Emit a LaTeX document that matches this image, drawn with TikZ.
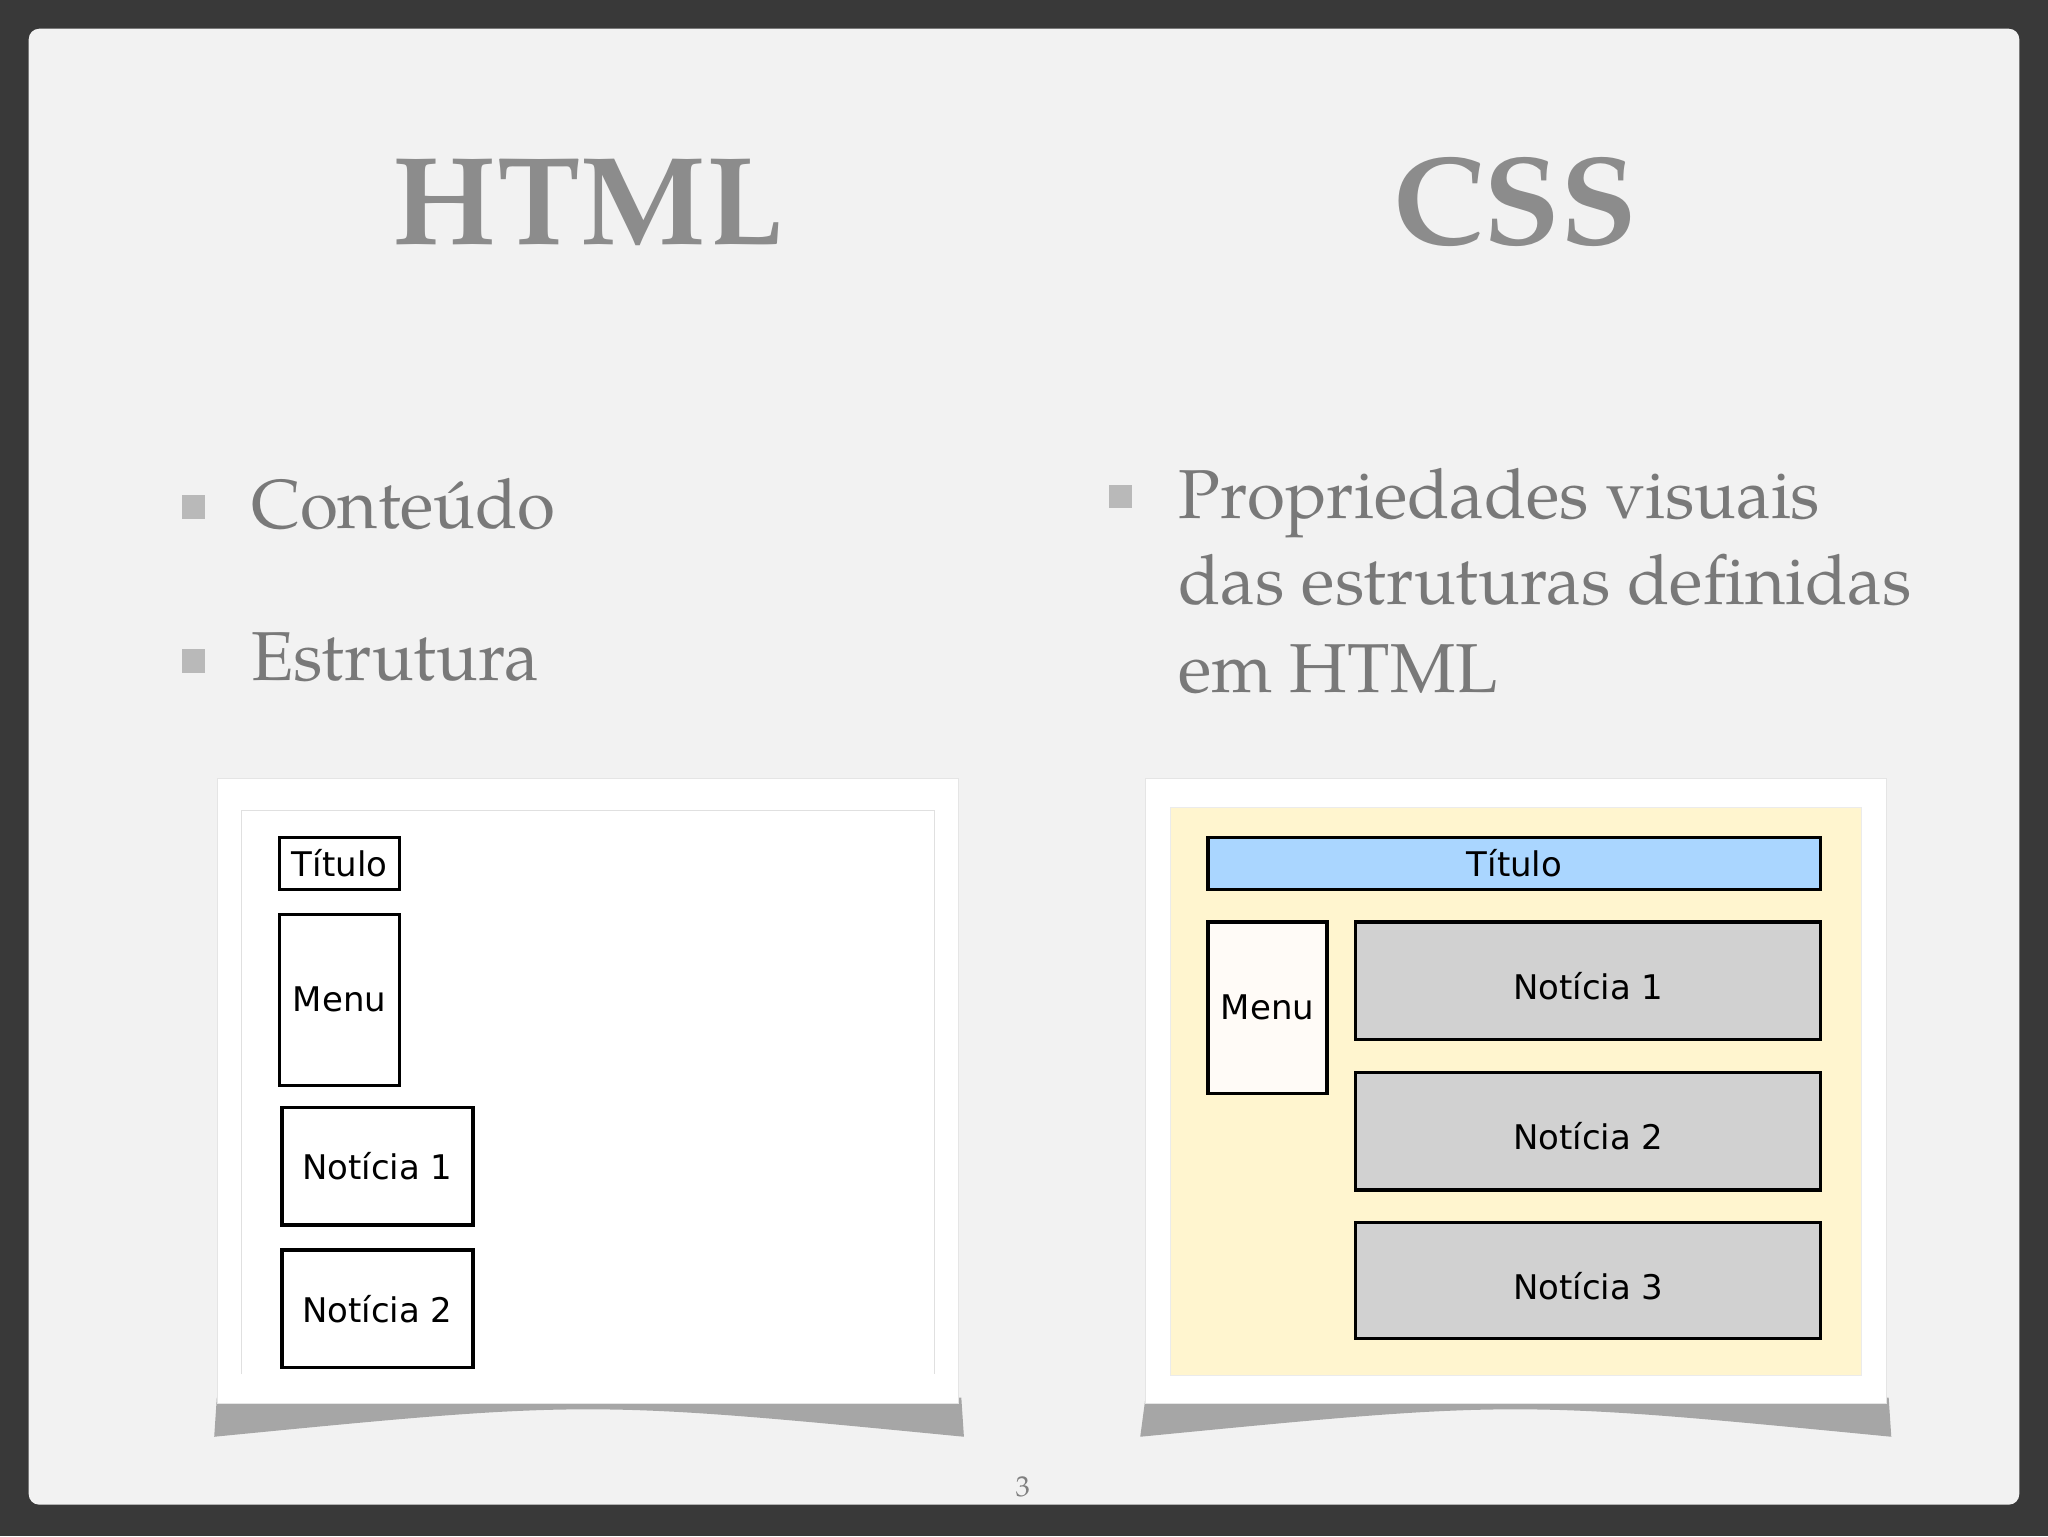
\documentclass[tikz,border=0pt]{standalone}
\usepackage{fontspec}
\setmainfont{TeX Gyre Pagella}
\newfontfamily\boxfont{DejaVu Sans}
\definecolor{ttlblue}{RGB}{170,214,255}
\definecolor{panelyel}{RGB}{255,245,207}
\begin{document}
\begin{tikzpicture}[x=1pt,y=-1pt,
  bx/.style={draw=black,line width=2.6pt,font=\boxfont\fontsize{26}{29}\selectfont,text=black},
  bul/.style={fill=gray!55,minimum size=18pt,inner sep=0pt},
  btxt/.style={anchor=base west,text=gray!95!black,font=\fontsize{53}{62}\selectfont,inner sep=0pt},
  ttl/.style={text=gray!90,font=\bfseries\fontsize{96}{106}\selectfont},
  shad/.style={fill=black!35}]
\useasboundingbox (0,0) rectangle (1568,1176);
\fill[gray!45!black] (0,0) rectangle (1568,1176);
\fill[rounded corners=8pt,fill=black!5] (22,22) rectangle (1546,1152);
\node[ttl] (h) at (450,155) {HTML};
\node[ttl] (c) at (1160,155) {CSS};
\node[bul] (b1) at (148,388) {};
\node[btxt] (t1) at (192,405) {Conteúdo};
\node[bul] (b2) at (148,506) {};
\node[btxt] (t2) at (192,521) {Estrutura};
\node[bul] (b3) at (858,380) {};
\node[btxt] (t3) at (902,397) {Propriedades visuais};
\node[btxt] (t4) at (902,463) {das estruturas definidas};
\node[btxt] (t5) at (902,530) {em HTML};
% left panel
\fill[shad] (166,1070) -- (736,1070) -- (738,1100) .. controls (450,1072) .. (164,1100) -- cycle;
\fill[white,draw=black!10] (166,596) rectangle (734,1074);
\draw[black!12] (185,1052) -- (185,620) -- (715,620) -- (715,1052);
\draw[bx] (214,641) rectangle (306,681) node[midway] (ltl) {Título};
\draw[bx] (214,700) rectangle (306,831) node[midway] (lm) {Menu};
\draw[bx] (216,848) rectangle (362,938) node[midway] (ln1) {Notícia 1};
\draw[bx] (216,957) rectangle (362,1047) node[midway] (ln2) {Notícia 2};
% right panel
\fill[shad] (877,1070) -- (1446,1070) -- (1448,1100) .. controls (1160,1072) .. (873,1100) -- cycle;
\fill[white,draw=black!10] (877,596) rectangle (1444,1074);
\fill[panelyel,draw=black!8] (896,618) rectangle (1425,1053);
\draw[bx,fill=ttlblue] (925,641) rectangle (1394,681) node[midway] (rt) {Título};
\draw[bx,fill=white!97!orange] (925,706) rectangle (1016,837) node[midway] (rm) {Menu};
\draw[bx,fill=black!18] (1038,706) rectangle (1394,796) node[midway,yshift=-4pt] (rn1) {Notícia 1};
\draw[bx,fill=black!18] (1038,821) rectangle (1394,911) node[midway,yshift=-4pt] (rn2) {Notícia 2};
\draw[bx,fill=black!18] (1038,936) rectangle (1394,1025) node[midway,yshift=-4pt] (rn3) {Notícia 3};
\node[text=gray,font=\fontsize{22}{24}\selectfont] (pg) at (783,1138) {3};
\end{tikzpicture}
\end{document}
